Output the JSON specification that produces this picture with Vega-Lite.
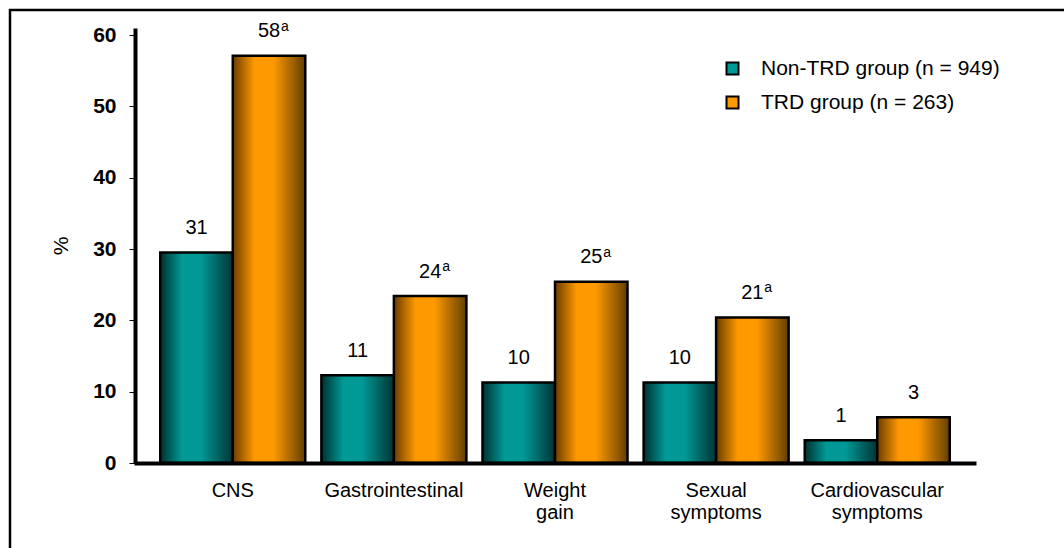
{
  "$schema": "https://vega.github.io/schema/vega-lite/v6.json",
  "width": 1064,
  "height": 548,
  "autosize": {"type": "none"},
  "padding": {"left": 10, "top": 10, "right": -10, "bottom": -10},
  "background": "white",
  "config": {
    "view": {"stroke": "black", "strokeWidth": 2.5},
    "font": "Liberation Sans",
    "legend": {
      "labelFont": "Liberation Sans",
      "labelFontSize": 21,
      "labelColor": "black",
      "labelLimit": 500,
      "symbolType": "square",
      "symbolSize": 144,
      "symbolStrokeColor": "black",
      "symbolStrokeWidth": 2,
      "symbolOpacity": 1,
      "rowPadding": 12,
      "labelOffset": 18,
      "padding": 0
    }
  },
  "data": {
    "values": [
      {"category": "CNS", "group": "Non-TRD group (n = 949)", "pct": 29.5, "label": "31", "sup": ""},
      {"category": "CNS", "group": "TRD group (n = 263)", "pct": 57.1, "label": "58", "sup": "a"},
      {"category": "Gastrointestinal", "group": "Non-TRD group (n = 949)", "pct": 12.3, "label": "11", "sup": ""},
      {"category": "Gastrointestinal", "group": "TRD group (n = 263)", "pct": 23.4, "label": "24", "sup": "a"},
      {"category": "Weight|gain", "group": "Non-TRD group (n = 949)", "pct": 11.3, "label": "10", "sup": ""},
      {"category": "Weight|gain", "group": "TRD group (n = 263)", "pct": 25.4, "label": "25", "sup": "a"},
      {"category": "Sexual|symptoms", "group": "Non-TRD group (n = 949)", "pct": 11.3, "label": "10", "sup": ""},
      {"category": "Sexual|symptoms", "group": "TRD group (n = 263)", "pct": 20.4, "label": "21", "sup": "a"},
      {"category": "Cardiovascular|symptoms", "group": "Non-TRD group (n = 949)", "pct": 3.2, "label": "1", "sup": ""},
      {"category": "Cardiovascular|symptoms", "group": "TRD group (n = 263)", "pct": 6.4, "label": "3", "sup": ""}
    ]
  },
  "encoding": {
    "x": {
      "field": "category",
      "type": "nominal",
      "sort": null,
      "scale": {"range": [124, 966], "paddingInner": 0.1, "paddingOuter": 0.163},
      "axis": {
        "title": null,
        "offset": -95,
        "zindex": 2,
        "domainColor": "black",
        "domainWidth": 4,
        "ticks": false,
        "tickSize": 0,
        "labelAngle": 0,
        "labelFont": "Liberation Sans",
        "labelFontSize": 20,
        "labelColor": "black",
        "labelPadding": 17,
        "labelLineHeight": 22,
        "labelBaseline": "top",
        "labelExpr": "split(datum.label, '|')"
      }
    },
    "xOffset": {"field": "group", "type": "nominal", "sort": null},
    "y": {
      "field": "pct",
      "type": "quantitative",
      "scale": {"domain": [0, 61], "range": [453, 17.9], "nice": false, "zero": true},
      "axis": {
        "values": [0, 10, 20, 30, 40, 50, 60],
        "offset": -125,
        "zindex": 2,
        "grid": false,
        "domainColor": "black",
        "domainWidth": 4,
        "tickColor": "black",
        "tickSize": 6,
        "tickWidth": 1,
        "labelFont": "Liberation Sans",
        "labelFontSize": 21,
        "labelFontWeight": "bold",
        "labelColor": "black",
        "labelPadding": 13,
        "title": "%",
        "titleFont": "Liberation Sans",
        "titleFontSize": 21,
        "titleFontWeight": "normal",
        "titleColor": "black",
        "titlePadding": 21
      }
    }
  },
  "layer": [
    {
      "mark": {"type": "bar"},
      "encoding": {
        "color": {
          "field": "group",
          "type": "nominal",
          "sort": null,
          "scale": {"domain": ["Non-TRD group (n = 949)", "TRD group (n = 263)"], "range": ["#009999", "#FF9900"]},
          "legend": {"title": null, "orient": "none", "legendX": 712, "legendY": 48}
        }
      }
    },
    {
      "mark": {"type": "bar", "stroke": "black", "strokeWidth": 2.5},
      "encoding": {
        "fill": {
          "condition": {
            "test": "datum.group === 'TRD group (n = 263)'",
            "value": {
              "gradient": "linear", "x1": 0, "y1": 0, "x2": 1, "y2": 0,
              "stops": [
                {"offset": 0, "color": "#6a3c00"},
                {"offset": 0.3, "color": "#ff9900"},
                {"offset": 0.56, "color": "#ff9900"},
                {"offset": 1, "color": "#623e00"}
              ]
            }
          },
          "value": {
            "gradient": "linear", "x1": 0, "y1": 0, "x2": 1, "y2": 0,
            "stops": [
              {"offset": 0, "color": "#003030"},
              {"offset": 0.3, "color": "#009996"},
              {"offset": 0.56, "color": "#009996"},
              {"offset": 1, "color": "#003434"}
            ]
          }
        }
      }
    },
    {
      "mark": {"type": "text", "baseline": "alphabetic", "align": "center", "dy": -18.5, "fontSize": 20, "font": "Liberation Sans", "color": "black"},
      "encoding": {"text": {"field": "label"}}
    },
    {
      "mark": {"type": "text", "baseline": "alphabetic", "align": "left", "dx": 12, "dy": -25, "fontSize": 14, "font": "Liberation Sans", "color": "black"},
      "encoding": {"text": {"field": "sup"}}
    }
  ]
}
